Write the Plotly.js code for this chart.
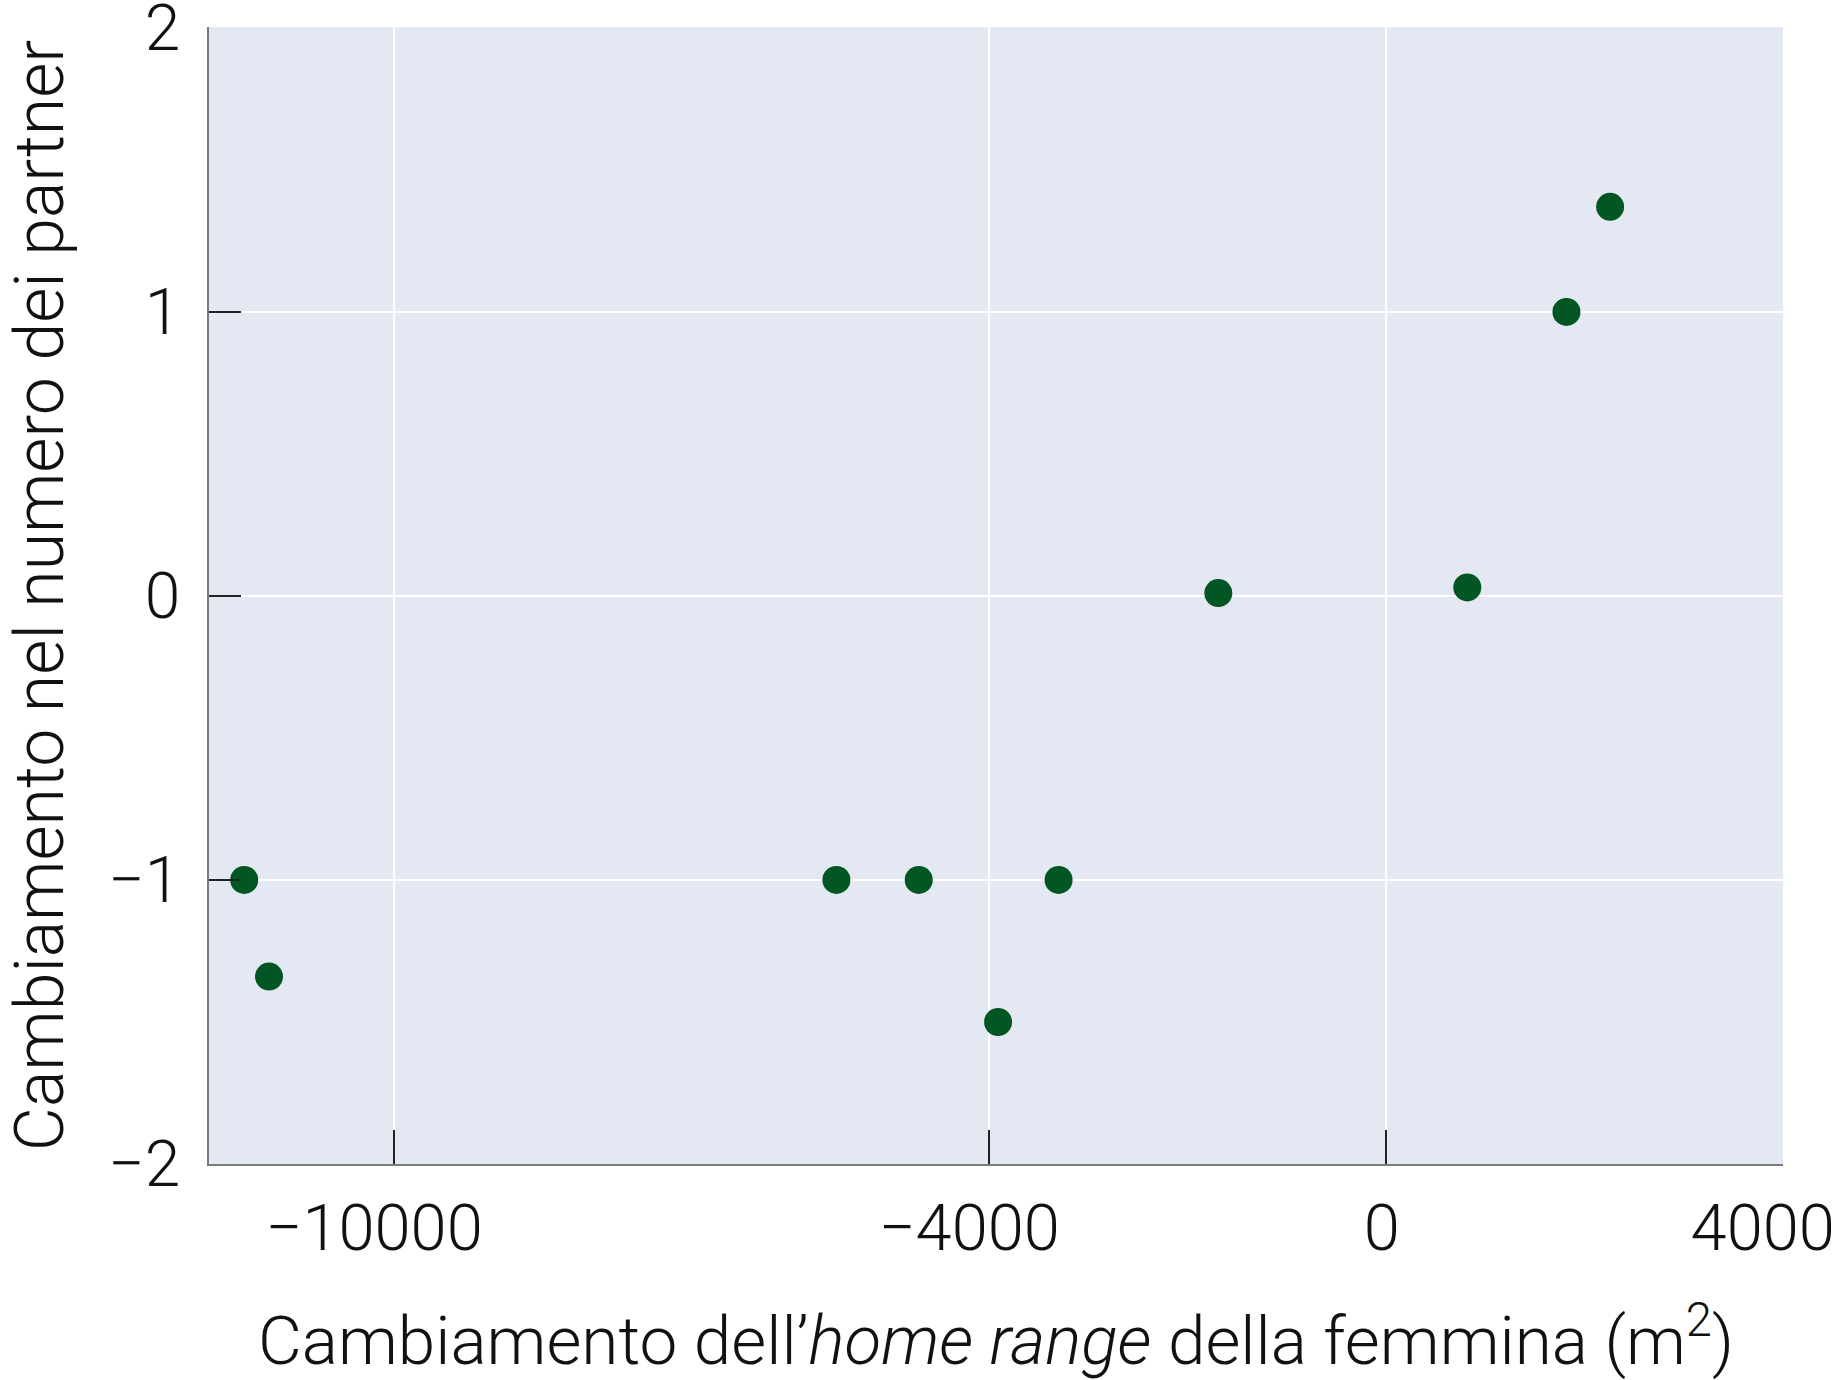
<!DOCTYPE html>
<html>
<head>
<meta charset="utf-8">
<script src="https://cdn.plot.ly/plotly-3.0.1.min.js"></script>
<style>html,body{margin:0;padding:0;background:#fff;}#chart{width:1845px;height:1380px;}</style>
</head>
<body>
<div id="chart"></div>
<script>
// Change in female home range (m^2)
const homeRangeChange = [-11510, -11260, -5540, -4710, -3910, -3300, -1690, 820, 1820, 2260];
// Change in number of partners
const partnerChange = [-1.0, -1.34, -1.0, -1.0, -1.5, -1.0, 0.01, 0.03, 1.0, 1.37];
const xTickVals = [-10000, -4000, 0, 4000];
const xTickText = ['−10000', '−4000', '\u00a0\u00a00', '4000'];
const yTickVals = [-2, -1, 0, 1, 2];
const yTickText = ['−2', '−1', '0', '1', '2'];

const fontFamily = 'Roboto, "Liberation Sans", Arial, sans-serif';

const trace = {
  type: 'scatter',
  mode: 'markers',
  x: homeRangeChange,
  y: partnerChange,
  marker: {color: '#015624', size: 28, line: {width: 0}},
  hoverinfo: 'x+y'
};

const layout = {
  width: 1845,
  height: 1380,
  margin: {l: 209, r: 62, t: 27, b: 216, pad: 0},
  paper_bgcolor: '#ffffff',
  plot_bgcolor: '#e3e8f3',
  showlegend: false,
  font: {family: fontFamily, color: '#111111', size: 60, weight: 300},
  xaxis: {
    range: [-11865, 4003],
    tickmode: 'array',
    tickvals: xTickVals,
    ticktext: xTickText,
    ticks: 'inside',
    ticklen: 34,
    tickwidth: 1.5,
    tickcolor: '#222222',
    showgrid: true,
    gridcolor: '#ffffff',
    gridwidth: 2,
    zeroline: false,
    showline: true,
    linecolor: '#7a7a7a',
    linewidth: 2,
    tickfont: {family: fontFamily, size: 65, color: '#111111', weight: 300},
    ticklabelstandoff: 6,
    ticklabelshift: -20,
    ticklabeloverflow: 'allow',
    title: {
      text: 'Cambiamento dell’<i>home range</i> della femmina (m<sup>2</sup>)',
      font: {family: fontFamily, size: 67.5, color: '#111111', weight: 300},
      standoff: 55
    },
    automargin: false
  },
  yaxis: {
    range: [-2, 2.003],
    tickmode: 'array',
    tickvals: yTickVals,
    ticktext: yTickText,
    ticks: 'inside',
    ticklen: 32,
    tickwidth: 1.5,
    tickcolor: '#222222',
    showgrid: true,
    gridcolor: '#ffffff',
    gridwidth: 2,
    zeroline: false,
    showline: true,
    linecolor: '#7a7a7a',
    linewidth: 2,
    tickfont: {family: fontFamily, size: 64, color: '#111111', weight: 300},
    ticklabelstandoff: 14,
    ticklabeloverflow: 'allow',
    title: {
      text: 'Cambiamento nel numero dei partner',
      font: {family: fontFamily, size: 68, color: '#111111', weight: 300},
      standoff: 24
    },
    automargin: false
  }
};

Plotly.newPlot('chart', [trace], layout, {displayModeBar: false, staticPlot: true});
</script>
</body>
</html>
